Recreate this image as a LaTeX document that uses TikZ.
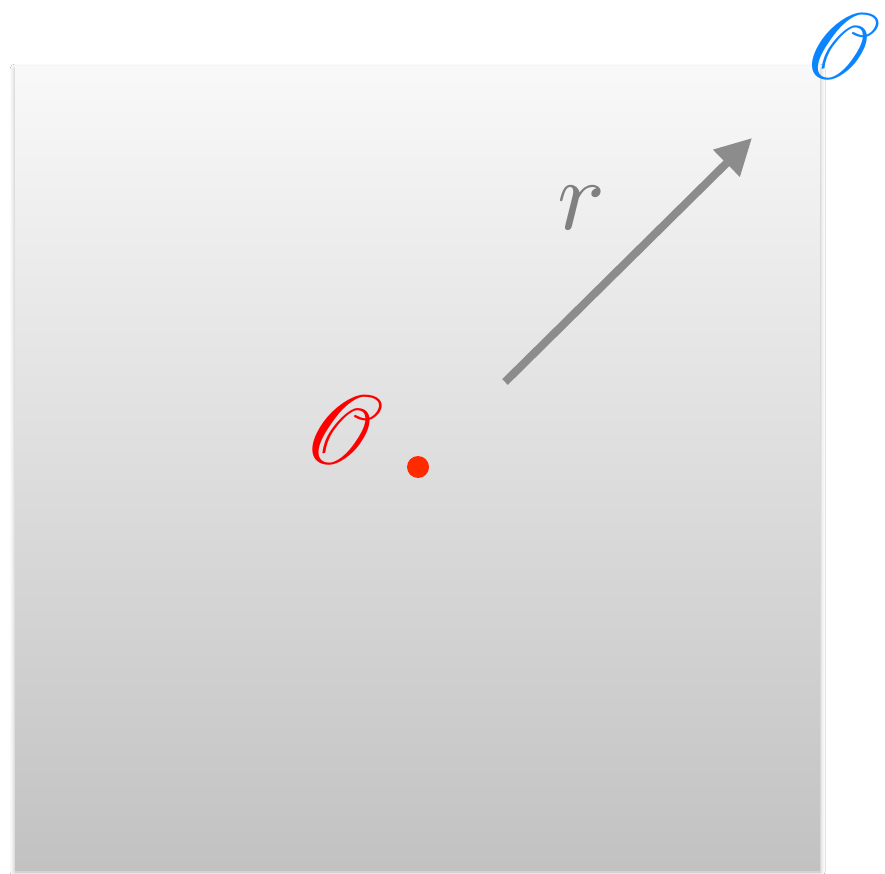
\documentclass[tikz,border=0pt]{standalone}
\usepackage{mathrsfs}
\usetikzlibrary{shadows.blur,arrows.meta}
\definecolor{oblue}{RGB}{10,132,255}
\definecolor{ored}{RGB}{255,0,0}
\definecolor{dotred}{RGB}{255,42,0}
\definecolor{agray}{RGB}{140,140,140}
\definecolor{rgray}{RGB}{128,128,128}
\tikzset{
  panel/.style={top color=gray!5, bottom color=gray!48, draw=none,
    blur shadow={shadow xshift=0pt, shadow yshift=-2pt, shadow blur radius=5pt, shadow opacity=30}},
  biglabel/.style={inner sep=0pt},
  vec/.style={draw=agray, line width=8pt, -{Triangle[length=36pt,width=36pt]}}
}
\begin{document}
\begin{tikzpicture}[x=1pt,y=-1pt]
\useasboundingbox (0,0) rectangle (885,874);
\fill[white] (0,0) rectangle (885,874);
\path[panel] (15,67) rectangle (820,870);
\node[biglabel, text=oblue] (Oblue) at (842,47) {\scalebox{9.4}{$\mathscr{O}$}};
\node[biglabel, text=ored] (Ored) at (344,430) {\scalebox{9.8}{$\mathscr{O}$}};
\node[circle, fill=dotred, inner sep=0pt, minimum size=22pt] (dot) at (418,467) {};
\coordinate (tail) at (505,382);
\coordinate (tip) at (752,138);
\draw[vec] (tail) -- (tip);
\node[biglabel, text=rgray] (r) at (581,208) {\scalebox{10}{$r$}};
\end{tikzpicture}
\end{document}
